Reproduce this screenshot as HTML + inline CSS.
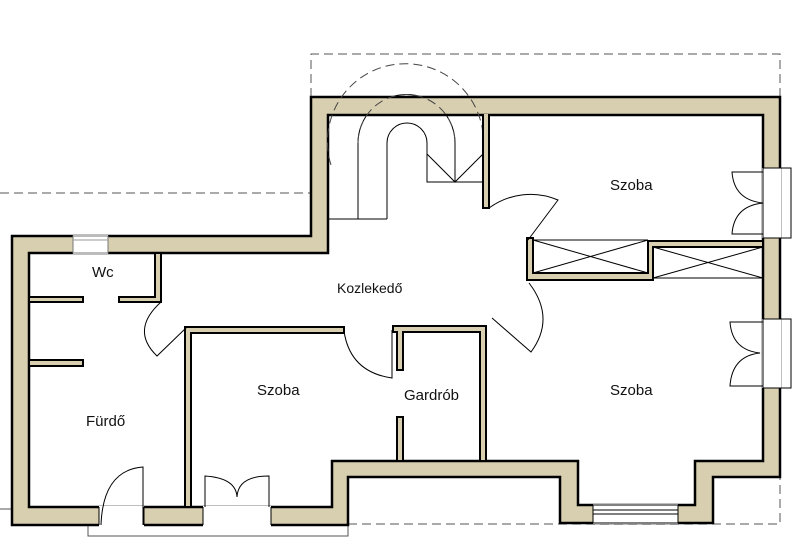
<!DOCTYPE html>
<html><head><meta charset="utf-8"><style>
html,body{margin:0;padding:0;background:#fff;}
svg{display:block;}
text{font-family:"Liberation Sans",sans-serif;font-size:15px;fill:#111;}
</style></head><body>
<svg width="805" height="548" viewBox="0 0 805 548" xmlns="http://www.w3.org/2000/svg">
<rect width="805" height="548" fill="#fff"/>
<!-- stairs (under wall) -->
<g fill="none" stroke="#000" stroke-width="1">
<path d="M358,219 L358,143 A48,48 0 0 1 455,143 L455,182"/>
<path d="M387,219 L387,143 A20,20 0 0 1 427,143 L427,182 L483,182"/>
<line x1="328" y1="219" x2="387" y2="219"/>
<polyline points="427,154 455,182 483,154"/>
</g>
<!-- dashed outlines -->
<g fill="none" stroke="#555" stroke-width="1" stroke-dasharray="9,5">
<polyline points="311,97 311,54 780,54 780,97"/>
<line x1="0" y1="193" x2="311" y2="193"/>
<polyline points="348,524 780,524 780,477"/>
</g>
<line x1="0" y1="509" x2="12" y2="509" stroke="#555" stroke-width="1"/>
<rect x="88" y="525" width="260" height="11" fill="none" stroke="#555" stroke-width="1"/>
<!-- main wall -->
<path fill="#d8cfb0" stroke="#000" stroke-width="2.5" fill-rule="evenodd" d="
M12,236 L311,236 L311,97 L780,97 L780,477 L713,477 L713,523 L560,523 L560,477 L348,477 L348,525 L12,525 Z
M29,253 L29,507 L332,507 L332,461 L578,461 L578,505 L695,505 L695,461 L763,461 L763,115 L328,115 L328,253 Z"/>
<g fill="none" stroke="#444" stroke-width="1" stroke-dasharray="9,5">
<path d="M331,165 A78,78 0 1 1 483,150"/>
<path d="M358,143 A48,48 0 0 1 455,143"/>
</g>
<!-- openings -->
<g fill="#fff" stroke="none">
<rect x="73" y="235" width="35" height="19"/>
<rect x="99" y="506" width="45" height="21"/>
<rect x="203" y="506" width="68" height="21"/>
<rect x="593" y="504" width="85" height="20"/>
<rect x="762" y="168" width="19" height="70"/>
<rect x="762" y="319" width="19" height="69"/>
</g>
<g fill="none" stroke="#000" stroke-width="1">
<rect x="73" y="236" width="35" height="17" stroke="#777"/>
<line x1="73" y1="240" x2="108" y2="240" stroke="#999"/>
<line x1="99" y1="507" x2="99" y2="525"/><line x1="144" y1="507" x2="144" y2="525"/>
<line x1="203" y1="507" x2="203" y2="525"/><line x1="271" y1="507" x2="271" y2="525"/>
<rect x="593" y="505" width="85" height="18"/>
<line x1="593" y1="510" x2="678" y2="510"/><line x1="593" y1="514" x2="678" y2="514"/>
<rect x="763" y="168" width="28" height="70"/>
<rect x="763" y="319" width="28" height="69"/>
</g>
<!-- interior walls -->
<g fill="#d8cfb0" stroke="#000" stroke-width="2">
<rect x="483" y="115" width="6" height="93"/>
<rect x="155" y="253" width="6" height="49"/>
<rect x="29" y="297" width="54" height="5"/>
<rect x="119" y="297" width="42" height="5"/>
<rect x="29" y="360" width="54" height="6"/>
<rect x="185" y="327" width="6" height="180"/>
<rect x="185" y="327" width="159" height="6"/>
<rect x="393" y="326" width="93" height="6"/>
<rect x="397" y="326" width="6" height="44"/>
<rect x="397" y="417" width="6" height="44"/>
<rect x="480" y="326" width="6" height="135"/>
<rect x="527" y="238" width="6" height="42"/>
<path d="M527,273 L648,273 L648,241 L763,241 L763,247 L653,247 L653,280 L527,280 Z"/>
</g>
<g fill="#d8cfb0" stroke="none">
<rect x="186" y="328" width="4" height="178"/>
<rect x="394" y="327" width="91" height="4"/>
<rect x="481" y="327" width="4" height="133"/>
<rect x="528" y="239" width="4" height="40"/>
<rect x="156" y="254" width="4" height="47"/>
<rect x="484" y="114" width="4" height="4"/>
</g>
<!-- closets -->
<g fill="none" stroke="#000" stroke-width="1">
<line x1="533" y1="240" x2="648" y2="240"/>
<line x1="533" y1="240" x2="648" y2="273"/><line x1="533" y1="273" x2="648" y2="240"/>
<rect x="653" y="247" width="110" height="31"/>
<line x1="653" y1="247" x2="763" y2="278"/><line x1="653" y1="278" x2="763" y2="247"/>
</g>
<!-- doors -->
<g fill="none" stroke="#000" stroke-width="1">
<path d="M489,208 A70,70 0 0 1 558,200 L528,240"/>
<path d="M529,283 Q556,318 531,352 L492,318"/>
<path d="M161,302 Q130,330 157,356 L187,327"/>
<path d="M344,331 Q350,372 392,378 L392,330"/>
<path d="M143,525 L143,467 Q103,470 101,525"/>
<path d="M205,507 L205,476 Q236,478 237,497 Q238,476 269,476 L269,507"/>
<path d="M763,172 L732,172 Q734,200 763,203 Q734,206 732,234 L763,234"/>
<path d="M763,322 L730,322 Q732,350 760,353 Q732,356 730,386 L763,386"/>
</g>
<!-- labels -->
<text x="92" y="277">Wc</text>
<text x="86" y="426">Fürdő</text>
<text x="257" y="395">Szoba</text>
<text x="404" y="400">Gardrób</text>
<text x="610" y="395">Szoba</text>
<text x="610" y="190">Szoba</text>
<text x="337" y="293" style="font-size:14px">Kozlekedő</text>
</svg>
</body></html>
